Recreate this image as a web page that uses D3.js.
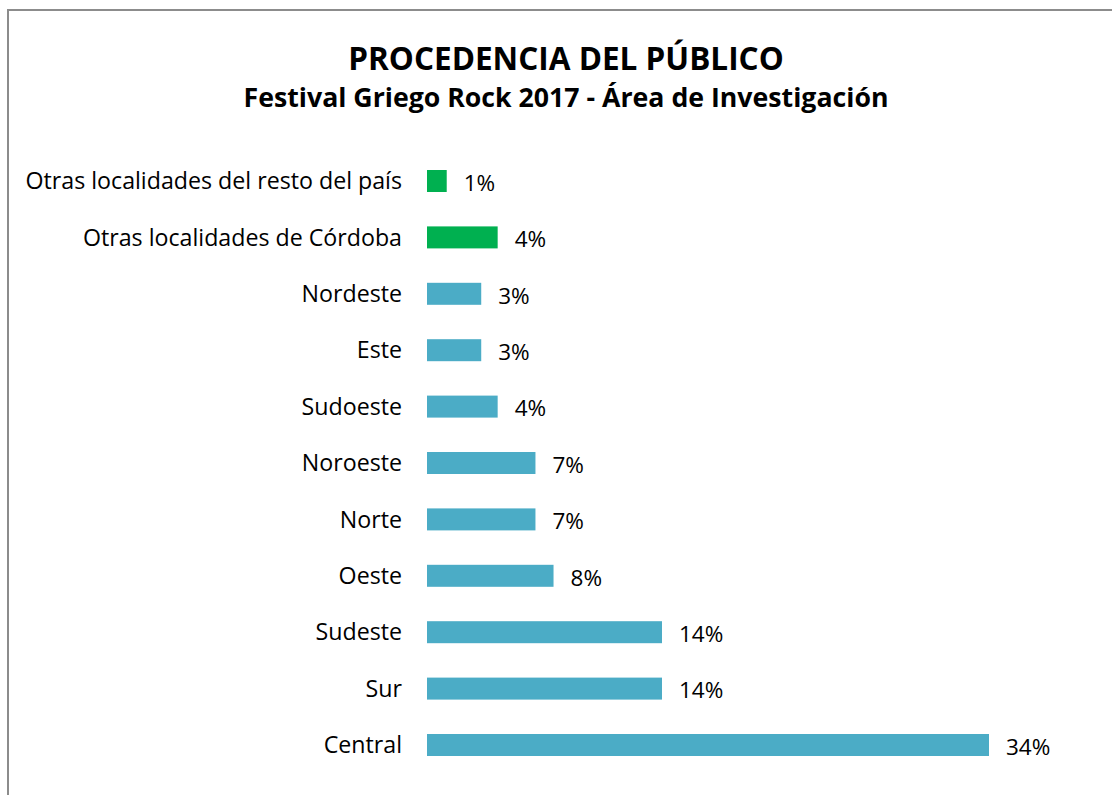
<!DOCTYPE html>
<html>
<head>
<meta charset="utf-8">
<script src="https://cdn.jsdelivr.net/npm/d3@7"></script>
<style>
  body { margin: 0; background: #fff; }
</style>
</head>
<body>
<svg id="chart" width="1112" height="795"></svg>
<script>
// categories, top to bottom
var categories = [
    "Otras localidades del resto del país",
    "Otras localidades de Córdoba",
    "Nordeste",
    "Este",
    "Sudoeste",
    "Noroeste",
    "Norte",
    "Oeste",
    "Sudeste",
    "Sur",
    "Central"
];
// share of the public, in percent
var values = [1.2, 4.3, 3.3, 3.3, 4.3, 6.6, 6.6, 7.7, 14.3, 14.3, 34.2];
// group: 1 = other localities (green), 0 = zones of the city (blue)
var groups = [1, 1, 0, 0, 0, 0, 0, 0, 0, 0, 0];

var title = "PROCEDENCIA DEL PÚBLICO";
var subtitle = "Festival Griego Rock 2017 - Área de Investigación";

var svg = d3.select("#chart");
var font = "'Open Sans', 'Noto Sans', sans-serif";

// frame
svg.append("path")
    .attr("d", "M8,795 L8,10 L1112,10")
    .attr("fill", "none")
    .attr("stroke", "#8c8c8c")
    .attr("stroke-width", 2);

svg.append("text")
    .attr("x", 566)
    .attr("y", 70)
    .attr("text-anchor", "middle")
    .attr("font-family", font)
    .attr("font-weight", "bold")
    .attr("font-size", 31.5)
    .text(title);

svg.append("text")
    .attr("x", 566)
    .attr("y", 107)
    .attr("text-anchor", "middle")
    .attr("font-family", font)
    .attr("font-weight", "bold")
    .attr("font-size", 26.7)
    .text(subtitle);

var x = d3.scaleLinear().domain([0, 34.2]).range([427, 989]);
var y = d3.scaleBand()
    .domain(categories)
    .range([152.8, 773.2])
    .paddingInner(0.61)
    .paddingOuter(0.305);

var color = function(g) { return g === 1 ? "#00b050" : "#4bacc6"; };

var data = categories.map(function(c, i) {
    return { name: c, value: values[i], group: groups[i] };
});

svg.selectAll("rect.bar")
    .data(data)
    .enter()
    .append("rect")
    .attr("class", "bar")
    .attr("x", x(0))
    .attr("y", function(d) { return y(d.name); })
    .attr("width", function(d) { return x(d.value) - x(0); })
    .attr("height", y.bandwidth())
    .attr("fill", function(d) { return color(d.group); });

// category labels
svg.selectAll("text.cat")
    .data(data)
    .enter()
    .append("text")
    .attr("class", "cat")
    .attr("x", 402)
    .attr("y", function(d) { return y(d.name) + y.bandwidth() / 2; })
    .attr("dy", "0.35em")
    .attr("text-anchor", "end")
    .attr("font-family", font)
    .attr("font-size", 23.2)
    .attr("fill", "#000")
    .text(function(d) { return d.name; });

// value labels
svg.selectAll("text.val")
    .data(data)
    .enter()
    .append("text")
    .attr("class", "val")
    .attr("x", function(d) { return x(d.value) + 17; })
    .attr("y", function(d) { return y(d.name) + y.bandwidth() / 2 + 2; })
    .attr("dy", "0.35em")
    .attr("font-family", font)
    .attr("font-size", 22.5)
    .attr("fill", "#000")
    .text(function(d) { return Math.round(d.value) + "%"; });
</script>
</body>
</html>
